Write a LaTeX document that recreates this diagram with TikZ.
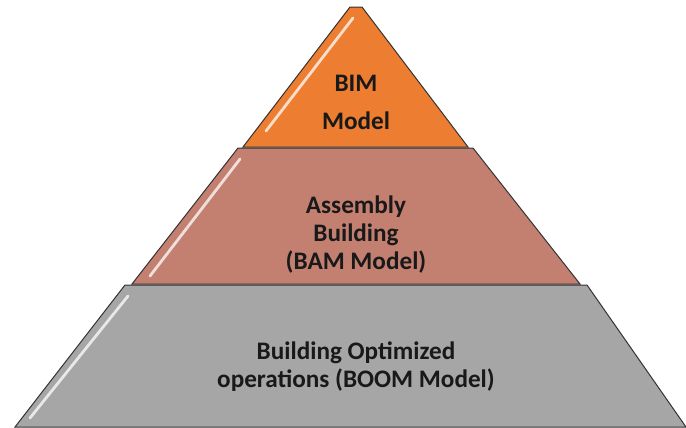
\documentclass[tikz,border=0pt]{standalone}
\usepackage{fontspec}
\setmainfont{Carlito}
\usepackage{xcolor}
\usepackage{tikz}
\definecolor{bimorange}{HTML}{ED7D31}
\definecolor{bamrose}{HTML}{C38071}
\definecolor{boomgrey}{HTML}{A6A6A6}
\tikzstyle{tier} = [draw=black!80, 
line width=0.5pt, 
line join=miter]
\tikzstyle{gloss} = [white, 
line width=1.4pt, 
line cap=round, 
opacity=0.75]
\tikzstyle{tiertext} = [font=\fontsize{12.6}{14}\selectfont\bfseries, 
align=center, 
text=black!90]

\begin{document}
\begin{tikzpicture}[x=0.5pt, y=-0.5pt]
\useasboundingbox (0,0) rectangle (686,428);
% bottom tier
\draw [tier, fill=boomgrey] (125,285) -- (587,285) -- (686,427) -- (15,427) -- cycle;
\draw [gloss] (128,296) -- (30,418);
\node (boom) [tiertext] at (356,367) {Building Optimized\\operations (BOOM Model)};
% middle tier
\draw [tier, fill=bamrose] (238,148) -- (473,148) -- (580,284) -- (132,284) -- cycle;
\draw [gloss] (240,159) -- (150,276);
\node (bam) [tiertext] at (356,235) {Assembly\\Building\\(BAM Model)};
% top tier
\draw [tier, fill=bimorange] (350,7) -- (362,7) -- (468,147) -- (243,147) -- cycle;
\draw [gloss] (353,18) -- (266,131);
\node (bim) [tiertext] at (356,102) {BIM\\[5pt]Model};
\end{tikzpicture}
\end{document}
